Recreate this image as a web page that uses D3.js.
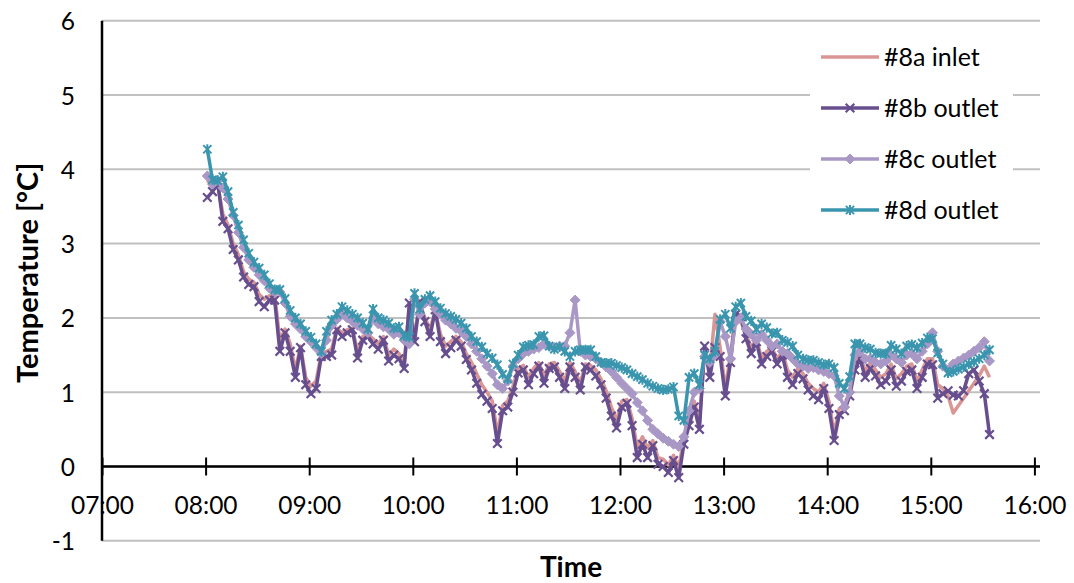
<!DOCTYPE html>
<html>
<head>
<meta charset="utf-8">
<script src="https://cdn.jsdelivr.net/npm/d3@7"></script>
<style>
  body { margin: 0; background: #fff; }
  svg { font-family: Lato, "Liberation Sans", sans-serif; }
</style>
</head>
<body>
<svg id="chart"></svg>
<script>
// x axis tick labels (hh:mm) and y ticks
const tickLabels = ["07:00","08:00","09:00","10:00","11:00","12:00","13:00","14:00","15:00","16:00"];
const yTicks = [-1, 0, 1, 2, 3, 4, 5, 6];

// readings every 3 minutes starting 08:01
const startTime = "08:01";
const stepMinutes = 3;

const seriesNames = ["#8a inlet", "#8b outlet", "#8c outlet", "#8d outlet"];

const inlet8a = [3.85,3.78,3.80,3.40,3.25,3.00,2.85,2.62,2.52,2.48,
 2.32,2.25,2.30,2.32,1.70,1.85,1.65,1.30,1.62,1.20,
 1.08,1.15,1.52,1.55,1.58,1.86,1.80,1.84,1.86,1.55,
 1.75,1.78,1.72,1.65,1.75,1.50,1.58,1.52,1.40,2.15,
 1.78,2.20,2.00,1.85,2.10,1.78,1.62,1.68,1.75,1.68,
 1.52,1.40,1.25,1.10,1.00,0.88,0.45,0.82,0.88,1.08,
 1.32,1.36,1.20,1.32,1.40,1.22,1.38,1.40,1.28,1.15,
 1.40,1.28,1.12,1.38,1.36,1.30,1.18,1.02,0.80,0.62,
 0.88,0.90,0.65,0.25,0.40,0.25,0.35,0.12,0.10,0.02,
 0.15,-0.02,0.38,0.62,0.88,0.60,1.55,1.30,2.05,1.60,
 1.05,1.50,2.05,1.95,1.78,1.60,1.72,1.45,1.55,1.60,
 1.45,1.55,1.30,1.20,1.32,1.25,1.12,1.05,1.00,1.12,
 0.88,0.45,0.78,0.82,1.02,1.38,1.50,1.28,1.40,1.30,
 1.20,1.25,1.38,1.18,1.25,1.35,1.38,1.15,1.30,1.45,
 1.45,1.10,1.05,0.95,0.72,0.82,0.92,1.02,1.12,1.22,
 1.35,1.20];

const outlet8b = [3.62,3.70,3.82,3.30,3.20,2.92,2.78,2.55,2.45,2.42,
 2.22,2.15,2.24,2.24,1.55,1.80,1.55,1.20,1.60,1.10,
 0.98,1.05,1.48,1.48,1.50,1.84,1.75,1.80,1.84,1.46,
 1.70,1.75,1.65,1.58,1.70,1.42,1.50,1.45,1.32,2.20,
 1.68,2.22,1.95,1.75,2.11,1.68,1.52,1.60,1.70,1.62,
 1.44,1.30,1.12,0.97,0.88,0.78,0.31,0.75,0.80,1.00,
 1.26,1.30,1.10,1.25,1.35,1.12,1.32,1.34,1.20,1.05,
 1.34,1.20,1.03,1.34,1.30,1.22,1.10,0.92,0.68,0.52,
 0.80,0.85,0.55,0.12,0.30,0.12,0.28,0.03,0.00,-0.08,
 0.08,-0.15,0.30,0.55,0.80,0.50,1.62,1.20,1.60,1.48,
 0.95,1.40,2.05,2.02,1.72,1.52,1.68,1.38,1.48,1.55,
 1.38,1.50,1.20,1.10,1.25,1.18,1.03,0.95,0.90,1.05,
 0.78,0.35,0.70,0.75,0.95,1.30,1.45,1.20,1.32,1.22,
 1.10,1.15,1.30,1.08,1.15,1.28,1.30,1.05,1.20,1.38,
 1.37,0.92,0.98,1.02,0.96,0.95,1.02,1.25,1.30,1.15,
 0.98,0.43];

const outlet8c = [3.91,3.80,3.85,3.75,3.60,3.38,3.15,2.95,2.78,2.68,
 2.58,2.50,2.40,2.35,2.35,2.20,2.02,1.92,1.85,1.75,
 1.68,1.60,1.52,1.70,1.90,1.98,2.05,2.00,1.95,1.90,
 1.85,1.80,2.00,1.92,1.88,1.85,1.78,1.80,1.70,1.65,
 2.25,2.05,2.20,2.22,2.12,2.05,1.97,1.92,1.86,1.82,
 1.75,1.65,1.55,1.45,1.35,1.25,1.10,1.05,1.15,1.35,
 1.45,1.52,1.55,1.58,1.60,1.65,1.62,1.60,1.62,1.62,
 1.80,2.24,1.55,1.50,1.48,1.45,1.40,1.34,1.28,1.20,
 1.12,1.05,0.98,0.86,0.75,0.62,0.50,0.44,0.38,0.34,
 0.30,0.27,0.40,0.75,1.00,1.05,1.48,1.40,1.50,1.95,
 1.75,1.45,1.95,2.00,1.85,1.78,1.70,1.78,1.70,1.62,
 1.65,1.55,1.52,1.45,1.38,1.35,1.32,1.33,1.30,1.28,
 1.25,1.22,0.95,0.80,1.00,1.50,1.55,1.45,1.45,1.40,
 1.38,1.42,1.50,1.45,1.40,1.50,1.52,1.45,1.55,1.65,
 1.80,1.55,1.35,1.30,1.38,1.42,1.46,1.50,1.55,1.60,
 1.68,1.42];

const outlet8d = [4.27,3.86,3.85,3.90,3.70,3.42,3.25,3.05,2.87,2.75,
 2.67,2.58,2.46,2.38,2.38,2.26,2.10,2.00,1.92,1.82,
 1.74,1.65,1.55,1.82,1.97,2.05,2.15,2.10,2.05,2.00,
 1.93,1.85,2.12,2.00,1.97,1.93,1.86,1.88,1.76,1.74,
 2.33,2.12,2.25,2.30,2.22,2.13,2.06,2.02,1.98,1.93,
 1.86,1.75,1.68,1.61,1.52,1.46,1.37,1.24,1.18,1.38,
 1.50,1.61,1.63,1.64,1.75,1.76,1.62,1.58,1.61,1.55,
 1.48,1.55,1.57,1.57,1.57,1.48,1.40,1.39,1.39,1.36,
 1.33,1.30,1.25,1.21,1.17,1.12,1.08,1.05,1.03,1.04,
 1.07,0.68,0.62,1.20,1.25,1.10,1.50,1.45,1.55,1.98,
 2.05,1.86,2.15,2.20,2.02,1.96,1.85,1.92,1.87,1.79,
 1.80,1.70,1.67,1.62,1.50,1.45,1.43,1.43,1.40,1.37,
 1.38,1.33,1.12,1.05,1.21,1.65,1.65,1.60,1.58,1.53,
 1.52,1.52,1.63,1.58,1.52,1.62,1.64,1.60,1.66,1.73,
 1.72,1.53,1.38,1.26,1.28,1.31,1.34,1.38,1.41,1.45,
 1.50,1.57];

const width = 1074, height = 583;
const svg = d3.select("#chart").attr("width", width).attr("height", height);

const parseTime = d3.timeParse("%H:%M");
const t0 = parseTime(startTime);
const times = outlet8d.map((d, i) => d3.timeMinute.offset(t0, i * stepMinutes));

const x = d3.scaleTime()
  .domain([parseTime(tickLabels[0]), parseTime(tickLabels[tickLabels.length - 1])])
  .range([102, 1034.4]);
const y = d3.scaleLinear().domain([-1, 6]).range([540.8, 20.7]);
const plotRight = 1040;

// gridlines
svg.append("g").selectAll("line")
  .data(yTicks)
  .enter().append("line")
  .attr("x1", x.range()[0]).attr("x2", plotRight)
  .attr("y1", d => y(d)).attr("y2", d => y(d))
  .attr("stroke", "#c0c0c0").attr("stroke-width", 2);

// y labels
svg.append("g").selectAll("text")
  .data(yTicks)
  .enter().append("text")
  .attr("x", 75)
  .attr("y", d => y(d) + 1)
  .attr("dy", "0.35em")
  .attr("text-anchor", "end")
  .attr("font-size", "24.5px")
  .text(d => d);

// x axis across y = 0
const xAxis = d3.axisBottom(x)
  .tickValues(tickLabels.map(parseTime))
  .tickFormat(d3.timeFormat("%H:%M"))
  .tickSize(9)
  .tickSizeOuter(0);

const gx = svg.append("g")
  .attr("transform", `translate(0,${y(0)})`)
  .call(xAxis);
gx.select(".domain").remove();
gx.selectAll(".tick line")
  .attr("y1", -9).attr("y2", 9)
  .attr("stroke", "#000").attr("stroke-width", 2);
gx.selectAll(".tick text")
  .attr("y", 39).attr("dy", "0.35em")
  .attr("font-size", "24.5px")
  .attr("font-family", "Lato, 'Liberation Sans', sans-serif")
  .attr("fill", "#000");
gx.append("line")
  .attr("x1", x.range()[0]).attr("x2", plotRight)
  .attr("stroke", "#000").attr("stroke-width", 2.5);

// y axis line (drawn over the 07:00 label, as in the original)
svg.append("line")
  .attr("x1", x.range()[0]).attr("x2", x.range()[0])
  .attr("y1", y(6)).attr("y2", y(-1))
  .attr("stroke", "#000").attr("stroke-width", 2.5);

// axis titles
svg.append("text")
  .attr("transform", `translate(38,${(y(6) + y(-1)) / 2 - 8}) rotate(-90)`)
  .attr("text-anchor", "middle")
  .attr("font-size", "29px").attr("font-weight", "bold")
  .text("Temperature [°C]");

svg.append("text")
  .attr("x", (x.range()[0] + plotRight) / 2)
  .attr("y", 577)
  .attr("text-anchor", "middle")
  .attr("font-size", "28px").attr("font-weight", "bold")
  .text("Time");

// marker shapes
const crossPath = r => `M${-r},${-r}L${r},${r}M${-r},${r}L${r},${-r}`;
const starPath = r => crossPath(r) + `M0,${-r - 1}L0,${r + 1}`;
const diamondPath = r => `M0,${-r}L${r},0L0,${r}L${-r},0Z`;

const series = [
  { name: seriesNames[0], values: inlet8a, color: "#d99694", marker: null },
  { name: seriesNames[1], values: outlet8b, color: "#674e8e", marker: "cross" },
  { name: seriesNames[2], values: outlet8c, color: "#a998c6", marker: "diamond" },
  { name: seriesNames[3], values: outlet8d, color: "#3a96ae", marker: "star" }
];

function drawMarker(sel, s) {
  if (s.marker === "cross") {
    sel.append("path").attr("d", crossPath(4.3))
      .attr("fill", "none").attr("stroke", s.color).attr("stroke-width", 2.2);
  } else if (s.marker === "star") {
    sel.append("path").attr("d", starPath(4.1))
      .attr("fill", "none").attr("stroke", s.color).attr("stroke-width", 2);
  } else if (s.marker === "diamond") {
    sel.append("path").attr("d", diamondPath(5))
      .attr("fill", s.color).attr("stroke", s.color).attr("stroke-width", 1);
  }
}

const line = d3.line()
  .x((d, i) => x(times[i]))
  .y(d => y(d));

series.forEach(s => {
  const g = svg.append("g");
  g.append("path")
    .datum(s.values)
    .attr("d", line)
    .attr("fill", "none")
    .attr("stroke", s.color)
    .attr("stroke-width", 3.5)
    .attr("stroke-linejoin", "round");
  if (s.marker) {
    g.selectAll("g.m")
      .data(s.values)
      .enter().append("g")
      .attr("class", "m")
      .attr("transform", (d, i) => `translate(${x(times[i])},${y(d)})`)
      .each(function() { drawMarker(d3.select(this), s); });
  }
});

// legend
const legend = svg.append("g");
legend.append("rect")
  .attr("x", 810).attr("y", 35).attr("width", 203).attr("height", 193)
  .attr("fill", "#fff");

const item = legend.selectAll("g.item")
  .data(series)
  .enter().append("g")
  .attr("class", "item")
  .attr("transform", (d, i) => `translate(821,${57 + i * 51})`);

item.append("line")
  .attr("x1", 0).attr("x2", 58)
  .attr("stroke", d => d.color).attr("stroke-width", 3.5);
item.append("g")
  .attr("transform", "translate(29,0)")
  .each(function(d) { drawMarker(d3.select(this), d); });
item.append("text")
  .attr("x", 63).attr("dy", "0.35em")
  .attr("font-size", "25px")
  .text(d => d.name);
</script>
</body>
</html>
